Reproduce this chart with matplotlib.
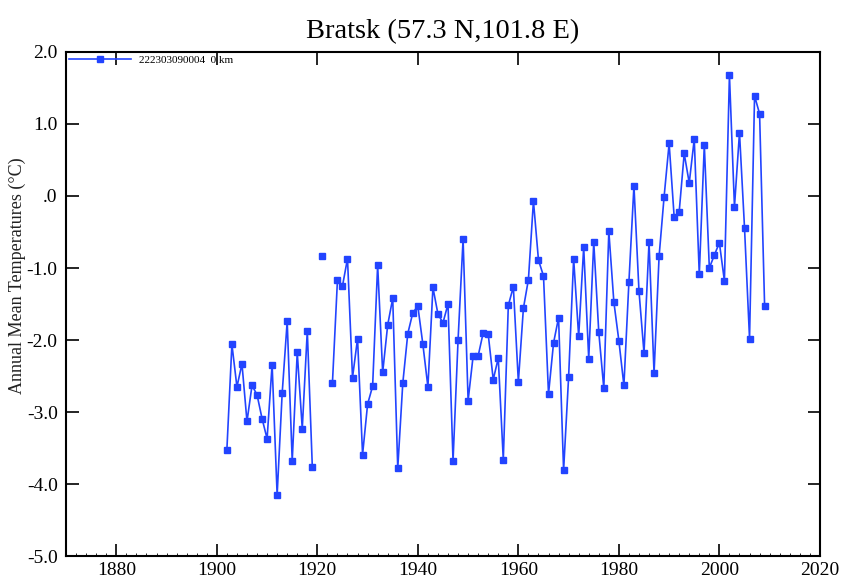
import numpy as np
import matplotlib
matplotlib.use("Agg")
import matplotlib.pyplot as plt
from matplotlib.ticker import MultipleLocator, FixedLocator

# annual means, 1902-2009 (NaN = missing year)
years = np.arange(1902, 2010)
temps = [
    -3.52, -2.06, -2.65, -2.33, -3.13, -2.63, -2.76, -3.09, -3.37, -2.34,   # 1902-1911
    -4.15, -2.74, -1.74, -3.68, -2.17, -3.23, -1.87, -3.76, np.nan, -0.84,  # 1912-1921
    np.nan, -2.60, -1.17, -1.25, -0.87, -2.52, -1.98, -3.59, -2.89, -2.64,  # 1922-1931
    -0.96, -2.45, -1.79, -1.42, -3.78, -2.60, -1.91, -1.62, -1.53, -2.06,   # 1932-1941
    -2.65, -1.27, -1.64, -1.76, -1.50, -3.68, -2.00, -0.60, -2.84, -2.22,   # 1942-1951
    -2.22, -1.90, -1.92, -2.55, -2.25, -3.66, -1.52, -1.26, -2.58, -1.56,   # 1952-1961
    -1.16, -0.07, -0.89, -1.11, -2.75, -2.04, -1.69, -3.81, -2.51, -0.87,   # 1962-1971
    -1.95, -0.71, -2.26, -0.64, -1.89, -2.67, -0.49, -1.47, -2.01, -2.63,   # 1972-1981
    -1.19, 0.14, -1.32, -2.18, -0.64, -2.46, -0.84, -0.01, 0.73, -0.29,     # 1982-1991
    -0.22, 0.59, 0.18, 0.79, -1.09, 0.71, -1.00, -0.82, -0.65, -1.18,       # 1992-2001
    1.68, -0.15, 0.88, -0.44, -1.98, 1.39, 1.14, -1.53,                     # 2002-2009
]
station_label = "222303090004  0 km"
ytick_vals = [2, 1, 0, -1, -2, -3, -4, -5]
ytick_labels = ["2.0", "1.0", ".0", "-1.0", "-2.0", "-3.0", "-4.0", "-5.0"]
xtick_vals = [1880, 1900, 1920, 1940, 1960, 1980, 2000, 2020]

plt.rcParams['font.family'] = ['Liberation Serif', 'DejaVu Serif']

fig = plt.figure(figsize=(8.47, 5.83), dpi=100)
ax = fig.add_axes([0.078, 0.046, 0.890, 0.865])

blue = '#2244ff'
ax.plot(years, temps, color=blue, lw=1.2, marker='s', ms=4.5,
        mec=blue, mfc=blue, label=station_label)

ax.set_xlim(1870, 2020)
ax.set_ylim(-5, 2)
ax.xaxis.set_major_locator(FixedLocator(xtick_vals))
ax.xaxis.set_minor_locator(MultipleLocator(2))
ax.yaxis.set_major_locator(FixedLocator(ytick_vals))
ax.set_yticklabels(ytick_labels)

ax.tick_params(which='major', direction='in', length=9, width=1.2,
               top=True, right=True, labelsize=14, pad=4)
ax.tick_params(which='major', axis='y', labelsize=14, pad=6)
ax.tick_params(which='minor', direction='in', length=2.5, width=0.6,
               top=False, right=False)
for s in ax.spines.values():
    s.set_linewidth(1.5)

ax.set_ylabel("Annual Mean Temperatures (\u00b0C)", fontsize=13, color='#222222')
ax.yaxis.set_label_coords(-0.053, 0.557)
ax.set_title("Bratsk (57.3 N,101.8 E)", fontsize=20.5, pad=10)

ax.legend(loc='upper left', frameon=False, fontsize=8, handlelength=5.5,
          borderaxespad=0.1, borderpad=0.2, handletextpad=0.8, markerscale=1.0)

fig.savefig("out.png", dpi=100)
